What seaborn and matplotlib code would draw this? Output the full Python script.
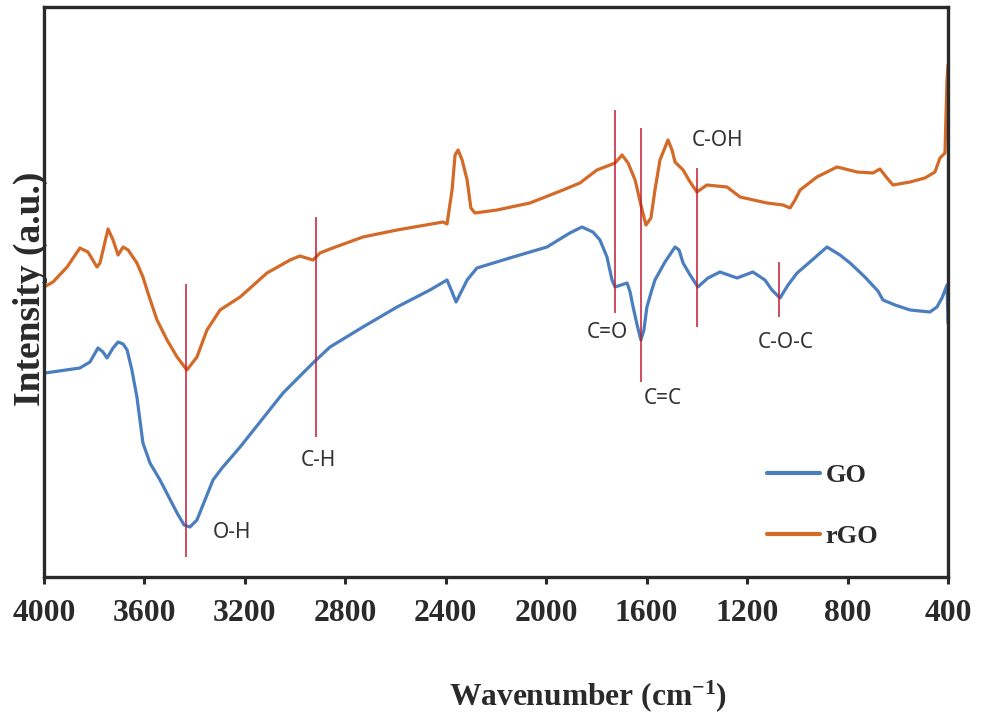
import matplotlib
matplotlib.use("Agg")
import matplotlib.pyplot as plt
import seaborn as sns
import pandas as pd

# ---- data (wavenumber in cm-1, intensity in arbitrary units) ----
go_wavenumber = [3996, 3857, 3817, 3785, 3765, 3749, 3725, 3705, 3685, 3669, 3650, 3630,
                 3606, 3578, 3538, 3470, 3442, 3419, 3391, 3359, 3327, 3291, 3219, 3048,
                 2929, 2861, 2730, 2594, 2463, 2395, 2375, 2359, 2335, 2315, 2276, 2132,
                 1997, 1906, 1858, 1814, 1786, 1758, 1738, 1726, 1702, 1678, 1666, 1654,
                 1638, 1623, 1611, 1599, 1583, 1567, 1527, 1487, 1471, 1455, 1427, 1396,
                 1356, 1308, 1240, 1177, 1129, 1101, 1069, 1037, 1001, 950, 882, 830,
                 790, 731, 679, 659, 611, 551, 472, 444, 424, 404, 400]
go_intensity = [204, 209, 215, 229, 225, 219, 229, 235, 233, 227, 207, 180,
                134, 114, 97, 64, 52, 50, 57, 77, 97, 109, 130, 184,
                214, 230, 250, 270, 287, 297, 285, 275, 287, 297, 309, 320,
                330, 344, 350, 345, 337, 320, 297, 290, 292, 294, 285, 270,
                252, 237, 247, 270, 284, 297, 315, 330, 327, 314, 302, 290,
                299, 305, 299, 305, 297, 287, 279, 292, 304, 315, 330, 322,
                314, 300, 286, 277, 272, 267, 265, 270, 279, 292, 254]

rgo_wavenumber = [4000, 3964, 3908, 3857, 3825, 3789, 3777, 3745, 3725, 3705, 3685, 3665,
                  3630, 3606, 3586, 3550, 3510, 3470, 3431, 3391, 3351, 3299, 3219, 3112,
                  3020, 2981, 2929, 2901, 2861, 2730, 2594, 2411, 2395, 2375, 2363, 2351,
                  2335, 2315, 2300, 2284, 2196, 2065, 1933, 1866, 1798, 1746, 1726, 1698,
                  1674, 1646, 1623, 1603, 1583, 1567, 1547, 1515, 1499, 1487, 1455, 1427,
                  1400, 1360, 1280, 1228, 1121, 1057, 1029, 1009, 989, 922, 842, 762,
                  699, 671, 643, 619, 551, 492, 452, 432, 412, 404, 400]
rgo_intensity = [290, 295, 310, 329, 325, 310, 314, 348, 337, 322, 330, 327,
                 314, 300, 284, 257, 237, 220, 207, 220, 247, 267, 280, 304,
                 317, 321, 317, 324, 328, 340, 347, 355, 353, 387, 422, 427,
                 417, 397, 369, 364, 367, 374, 387, 394, 407, 412, 414, 422,
                 414, 397, 372, 352, 359, 387, 417, 437, 427, 415, 407, 395,
                 385, 392, 390, 380, 374, 372, 369, 377, 387, 400, 410, 405,
                 404, 408, 399, 392, 395, 399, 405, 419, 424, 497, 512]

band_labels = ["O-H", "C-H", "C=O", "C=C", "C-OH", "C-O-C"]
band_wavenumber = [3435, 2917, 1726, 1623, 1400, 1073]
band_ymin = [20, 140, 264, 195, 250, 260]
band_ymax = [293, 360, 467, 449, 409, 315]
label_wavenumber = [3251, 2909, 1758, 1535, 1316, 1045]
label_y = [44, 116, 245, 178, 436, 234]

x_ticks = [4000, 3600, 3200, 2800, 2400, 2000, 1600, 1200, 800, 400]

df = pd.concat([
    pd.DataFrame({"Wavenumber": go_wavenumber, "Intensity": go_intensity, "Sample": "GO"}),
    pd.DataFrame({"Wavenumber": rgo_wavenumber, "Intensity": rgo_intensity, "Sample": "rGO"}),
])

sns.set_theme(style="white")
plt.rcParams["mathtext.default"] = "regular"

fig = plt.figure(figsize=(9.82, 7.19), dpi=100)
ax = fig.add_axes([44 / 982, 1 - 577 / 719, (948 - 44) / 982, (577 - 7) / 719])

palette = {"GO": "#4a7ebf", "rGO": "#d36a28"}
sns.lineplot(data=df, x="Wavenumber", y="Intensity", hue="Sample", palette=palette,
             estimator=None, sort=True, linewidth=2.3, ax=ax)
for ln in ax.get_lines():
    ln.set_solid_joinstyle("round")
    ln.set_solid_capstyle("round")

ax.vlines(band_wavenumber, band_ymin, band_ymax, colors="#c21a30", linewidth=1.1, zorder=3)
for lab, xw, yv in zip(band_labels, label_wavenumber, label_y):
    ax.text(xw, yv, lab, ha="center", va="center", fontsize=15, color="#333333",
            family="Noto Sans")

ax.set_xlim(4000, 400)
ax.set_ylim(0, 570)
ax.set_xticks(x_ticks)
ax.set_xticklabels([str(t) for t in x_ticks], family="Liberation Serif",
                   fontweight="bold", fontsize=22.8, color="#2a2a2a")
ax.set_yticks([])
ax.tick_params(axis="x", direction="out", length=5, width=2.2, color="#2a2a2a",
               pad=11, bottom=True)
for s in ax.spines.values():
    s.set_visible(True)
    s.set_color("#2a2a2a")
    s.set_linewidth(2.4)

ax.set_xlabel("Wavenumber (cm$^{-1}$)", family="Liberation Serif", fontweight="bold",
              fontsize=22.7, color="#2a2a2a")
ax.xaxis.set_label_coords(0.602, -0.177)
ax.set_ylabel("Intensity (a.u.)", family="Liberation Serif", fontweight="bold",
              fontsize=27, color="#2a2a2a")
ax.yaxis.set_label_coords(0.004, 0.505)

leg = ax.legend(loc="upper left", bbox_to_anchor=(0.774, 0.240), frameon=False,
                handlelength=2.0, handletextpad=0.2, labelspacing=1.4,
                prop={"family": "Liberation Serif", "weight": "bold", "size": 19})
for t in leg.get_texts():
    t.set_color("#2a2a2a")
for h in leg.get_lines():
    h.set_linewidth(3)

fig.savefig("out.png", dpi=100, facecolor="white")
